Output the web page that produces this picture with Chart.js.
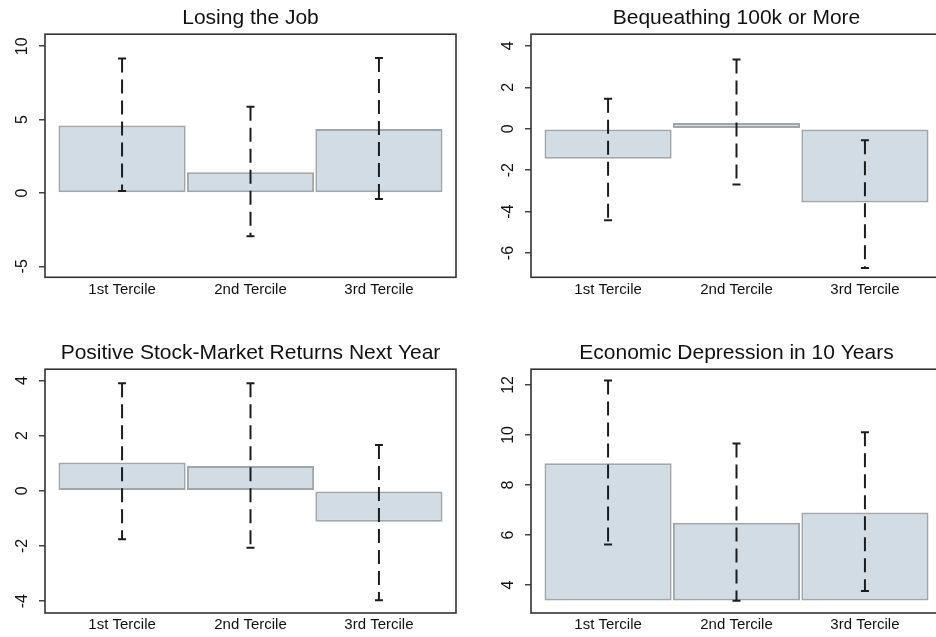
<!DOCTYPE html>
<html>
<head>
<meta charset="utf-8">
<script src="https://cdn.jsdelivr.net/npm/chart.js@4/dist/chart.umd.min.js"></script>
<style>
  body { margin: 0; background: #fff; }
  #wrap { position: relative; width: 936px; height: 637px; overflow: hidden; background: #fff; }
  #wrap canvas { position: absolute; }
</style>
</head>
<body>
<div id="wrap">
  <canvas id="c0" width="466" height="310" style="left:0px;top:0px"></canvas>
  <canvas id="c1" width="466" height="310" style="left:486px;top:0px"></canvas>
  <canvas id="c2" width="466" height="302" style="left:0px;top:335px"></canvas>
  <canvas id="c3" width="466" height="302" style="left:486px;top:335px"></canvas>
</div>
<script>
// categories shared by all four panels
const categories = ["1st Tercile", "2nd Tercile", "3rd Tercile"];
const titles = [
  "Losing the Job",
  "Bequeathing 100k or More",
  "Positive Stock-Market Returns Next Year",
  "Economic Depression in 10 Years"
];

// point estimates and confidence bands, one row per panel
const means  = [[4.59, 1.41, 4.36], [-1.45, 0.27, -3.56], [1.03, 0.90, -1.12], [8.87, 6.49, 6.90]];
const ciLow  = [[0.14, -2.95, -0.41], [-4.42, -2.69, -6.72], [-1.76, -2.06, -3.97], [5.62, 3.37, 3.76]];
const ciHigh = [[9.16, 5.88, 9.20], [1.44, 3.34, -0.56], [3.90, 3.90, 1.66], [12.18, 9.66, 10.11]];
const barBase = [0, 0, 0, 3.38];

// y axis ticks and ranges
const yTicks = [[-5, 0, 5, 10], [-6, -4, -2, 0, 2, 4], [-4, -2, 0, 2, 4], [4, 6, 8, 10, 12]];
const yMin = [-5.75, -7.17, -4.43, 2.88];
const yMax = [10.82, 4.56, 4.41, 12.63];

const FONT = "'Liberation Sans', Arial, Helvetica, sans-serif";
Chart.defaults.font.family = FONT;
Chart.defaults.color = "#111";

// box around the plot region + rotated y tick labels
const framePlugin = {
  id: "frame",
  afterDraw(chart) {
    const ctx = chart.ctx;
    const a = chart.chartArea;
    ctx.save();
    ctx.strokeStyle = "#333";
    ctx.lineWidth = 1.6;
    ctx.strokeRect(a.left, a.top, a.right - a.left, a.bottom - a.top);

    const ys = chart.scales.y;
    ctx.fillStyle = "#111";
    ctx.font = "16px " + FONT;
    ctx.textAlign = "center";
    ctx.textBaseline = "middle";
    ys.ticks.forEach(t => {
      const py = ys.getPixelForValue(t.value);
      ctx.save();
      ctx.translate(a.left - 22, py);
      ctx.rotate(-Math.PI / 2);
      ctx.fillText(String(t.value), 0, 0);
      ctx.restore();
    });
    ctx.restore();
  }
};

function makePanel(k) {
  const bars = categories.map((c, i) => ({ x: i + 1, y: [barBase[k], means[k][i]] }));
  const whiskers = [];
  categories.forEach((c, i) => {
    whiskers.push({ x: i + 1, y: ciHigh[k][i] });
    whiskers.push({ x: i + 1, y: ciLow[k][i] });
    whiskers.push({ x: i + 1.5, y: null });
  });
  const bottomPanel = k >= 2;

  new Chart(document.getElementById("c" + k), {
    type: "bar",
    data: {
      datasets: [
        {
          type: "line",
          data: whiskers,
          order: 0,
          borderColor: "#1c1c1c",
          borderWidth: 2,
          borderDash: [14, 7],
          spanGaps: false,
          tension: 0,
          pointStyle: "line",
          pointRadius: 4,
          pointHoverRadius: 4,
          pointBorderColor: "#1c1c1c",
          pointBorderWidth: 2
        },
        {
          data: bars,
          order: 1,
          backgroundColor: "rgb(209,220,228)",
          borderColor: "#a3a6a9",
          borderWidth: 2,
          borderSkipped: false,
          barPercentage: 0.99,
          categoryPercentage: 1
        }
      ]
    },
    options: {
      responsive: false,
      animation: false,
      layout: { padding: { right: 10 } },
      plugins: {
        legend: { display: false },
        tooltip: { enabled: false },
        title: {
          display: true,
          text: titles[k],
          fullSize: false,
          color: "#111",
          font: { size: 21, weight: "normal" },
          padding: { top: 6, bottom: 3 }
        }
      },
      scales: {
        x: {
          type: "linear",
          min: 0.4,
          max: 3.6,
          offset: false,
          grid: { display: false },
          border: { display: false },
          afterBuildTicks: s => { s.ticks = categories.map((c, i) => ({ value: i + 1 })); },
          afterFit: s => { s.height = bottomPanel ? 24 : 32.7; },
          ticks: {
            padding: bottomPanel ? -5 : -4,
            color: "#111",
            font: { size: 15 },
            maxRotation: 0,
            callback: (v, i) => categories[i]
          }
        },
        y: {
          min: yMin[k],
          max: yMax[k],
          beginAtZero: false,
          border: { display: false },
          grid: { drawOnChartArea: false, drawTicks: true, tickLength: 6, color: "#444", lineWidth: 1.5 },
          afterBuildTicks: s => { s.ticks = yTicks[k].map(v => ({ value: v })); },
          afterFit: s => { s.width = 45; },
          ticks: { display: false }
        }
      }
    },
    plugins: [framePlugin]
  });
}

[0, 1, 2, 3].forEach(makePanel);
</script>
</body>
</html>
